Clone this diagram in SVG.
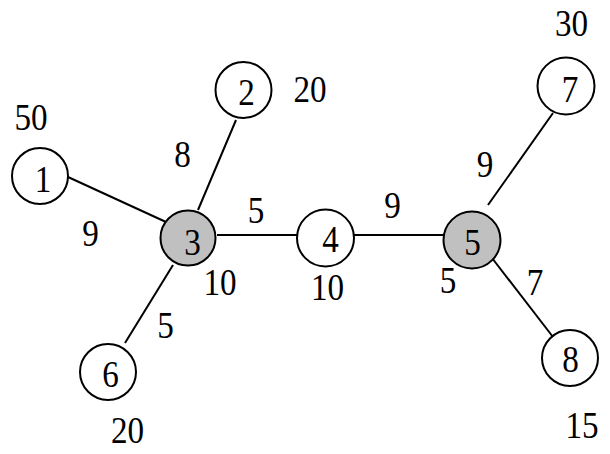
<svg xmlns="http://www.w3.org/2000/svg" width="610" height="454" viewBox="0 0 610 454">
<style>
.n{fill:#fff;stroke:#000;stroke-width:2}
.g{fill:#c0c0c0}
.e line{stroke:#000;stroke-width:2}
text{font-family:"Liberation Serif","DejaVu Serif",serif;font-size:39px;text-anchor:middle;fill:#000;transform-box:fill-box;transform-origin:center;transform:scaleX(0.85)}
</style>
<rect width="610" height="454" fill="#fff"/>
<g id="edges" class="e">
<line x1="68" y1="177" x2="166" y2="222"/>
<line x1="236" y1="120" x2="198" y2="210"/>
<line x1="173" y1="265" x2="125" y2="343"/>
<line x1="217" y1="235" x2="297" y2="235"/>
<line x1="354" y1="235" x2="444" y2="235"/>
<line x1="488" y1="205" x2="553" y2="113"/>
<line x1="492" y1="258" x2="553" y2="337"/>
</g>
<g id="edge-labels">
<text x="90.5" y="246">9</text>
<text x="182.5" y="167">8</text>
<text x="256" y="223">5</text>
<text x="165.5" y="338">5</text>
<text x="392.5" y="218">9</text>
<text x="485" y="177">9</text>
<text x="535" y="295">7</text>
</g>
<g id="node1"><circle class="n" cx="40" cy="176" r="28"/><text x="43" y="192">1</text><text x="31" y="130">50</text></g>
<g id="node2"><circle class="n" cx="243.5" cy="90" r="28"/><text x="246.5" y="105">2</text><text x="310" y="102">20</text></g>
<g id="node3"><circle class="n g" cx="188" cy="238" r="27.5"/><text x="192.5" y="255">3</text><text x="220" y="295">10</text></g>
<g id="node4"><circle class="n" cx="325.5" cy="238" r="28.5"/><text x="330.5" y="252">4</text><text x="327.5" y="300">10</text></g>
<g id="node5"><circle class="n g" cx="472" cy="240" r="28.5"/><text x="472.5" y="255">5</text><text x="448" y="293">5</text></g>
<g id="node6"><circle class="n" cx="108" cy="372" r="28"/><text x="110.5" y="387">6</text><text x="127.5" y="443">20</text></g>
<g id="node7"><circle class="n" cx="566" cy="86" r="28.5"/><text x="570" y="102">7</text><text x="571.5" y="36">30</text></g>
<g id="node8"><circle class="n" cx="570" cy="358" r="28"/><text x="570.5" y="372">8</text><text x="582" y="438">15</text></g>
</svg>
